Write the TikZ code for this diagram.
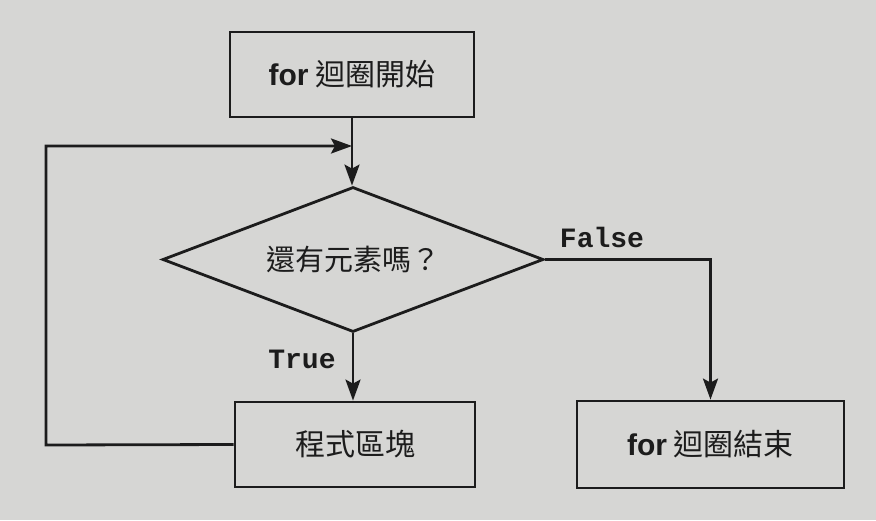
\documentclass[tikz,border=0pt]{standalone}
\usepackage{fontspec}
\setmainfont{Noto Sans CJK TC}
\newfontfamily\cjk{Noto Sans CJK TC}
\newfontfamily\latf{Liberation Sans}
\setmonofont{Liberation Mono}
\usetikzlibrary{arrows.meta,shapes.geometric}
\definecolor{bg}{HTML}{D6D6D4}
\definecolor{ink}{HTML}{1C1C1C}
\tikzset{
  box/.style={draw=ink, line width=2.8pt, rectangle, minimum height=85pt, inner sep=0pt, font=\cjk\fontsize{30}{36}\selectfont, text=ink},
  decision/.style={draw=ink, line width=2.8pt, diamond, aspect=2.63, inner sep=0pt, minimum width=381pt, minimum height=145pt, font=\cjk\fontsize{29}{35}\selectfont, text=ink},
  conn/.style={draw=ink, line width=2.8pt},
  arr/.style={conn, -{Stealth[length=21pt,width=15pt,inset=4pt]}},
  lbl/.style={font=\ttfamily\bfseries\fontsize{28}{32}\selectfont, text=ink, inner sep=0pt},
  kw/.style={}
}
\newcommand{\kwfor}{{\latf\bfseries for}}
\begin{document}
\begin{tikzpicture}[x=1pt,y=-1pt]
\fill[bg] (0,0) rectangle (876,520);
\useasboundingbox (0,0) rectangle (876,520);
\node[box, minimum width=244pt] (start) at (352,74.5) {\kwfor\ 迴圈開始};
\node[decision] (dec) at (353,259.5) {還有元素嗎？};
\node[box, minimum width=240pt] (blk) at (355,444.5) {程式區塊};
\node[box, minimum width=267pt, minimum height=87pt] (fin) at (710.5,444.5) {\kwfor\ 迴圈結束};
\coordinate (m) at (352,146);
\coordinate (lp) at (46,445);
\draw[arr] (start.south) -- (start.south |- dec.north);
\draw[arr] (blk.west) -- (lp) |- (m);
\draw[arr] (dec.south) -- (dec.south |- blk.north);
\draw[arr] (dec.east) -| (fin.north);
\node[lbl] (tl) at (302,359) {True};
\node[lbl] (fl) at (602,237) {False};
\end{tikzpicture}
\end{document}
